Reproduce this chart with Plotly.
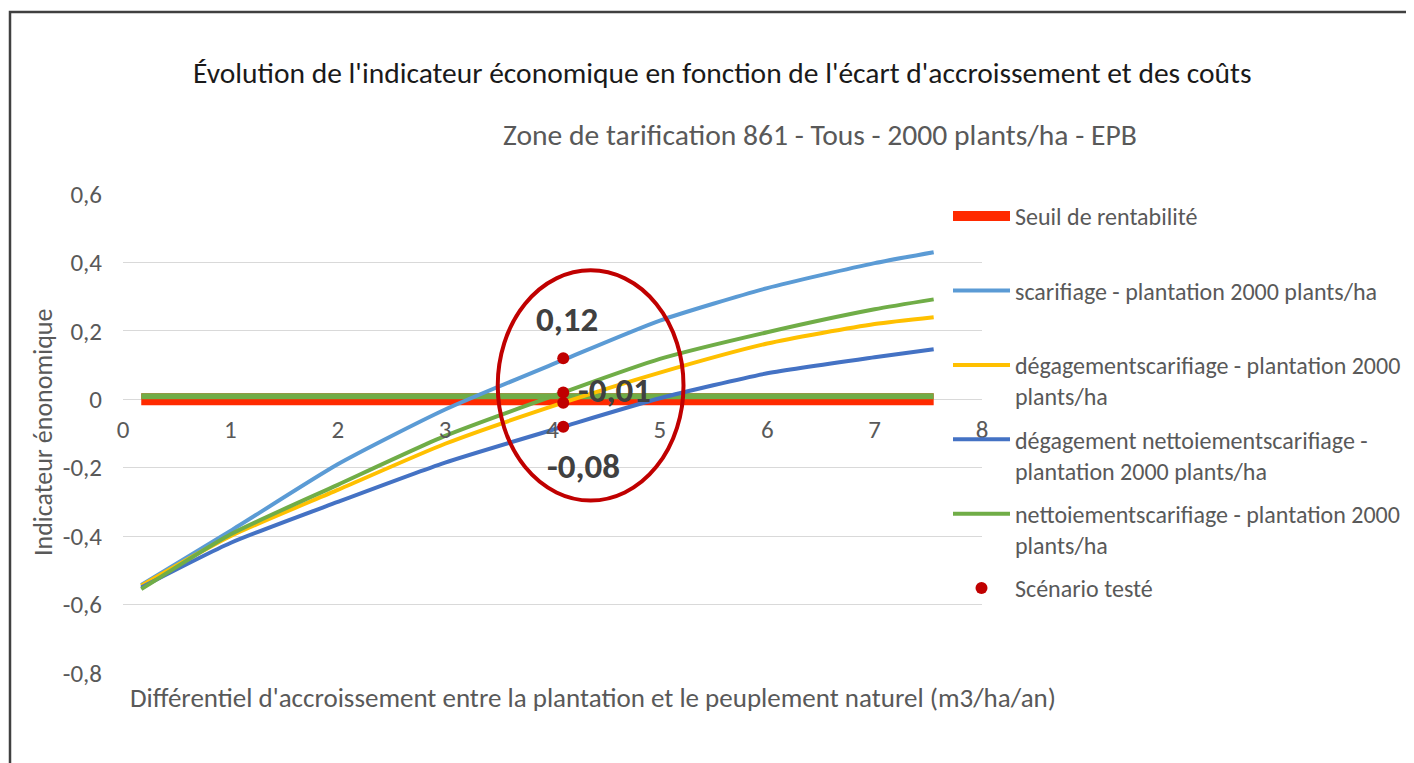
import plotly.graph_objects as go

# ---------------- data ----------------
x_pts = [0.17, 1.0, 2.0, 3.0, 4.1, 5.0, 6.0, 7.0, 7.55]
seuil_y = [0, 0, 0, 0, 0, 0, 0, 0, 0]
scarif_y = [-0.543, -0.385, -0.19, -0.03, 0.115, 0.23, 0.325, 0.398, 0.43]
degag_scarif_y = [-0.545, -0.40, -0.265, -0.13, -0.01, 0.078, 0.163, 0.22, 0.24]
degag_nett_y = [-0.55, -0.42, -0.30, -0.185, -0.08, 0.003, 0.076, 0.123, 0.146]
nett_scarif_y = [-0.555, -0.395, -0.25, -0.107, 0.02, 0.118, 0.196, 0.263, 0.292]

scen_x = [4.1, 4.1, 4.1, 4.1]
scen_y = [0.12, 0.02, -0.01, -0.08]
scen_labels = ["0,12", "", "-0,01", "-0,08"]

series_names = [
    "Seuil de rentabilité",
    "scarifiage - plantation 2000 plants/ha",
    "dégagementscarifiage - plantation 2000<br>plants/ha",
    "dégagement nettoiementscarifiage -<br>plantation 2000 plants/ha",
    "nettoiementscarifiage - plantation 2000<br>plants/ha",
    "Scénario testé",
]

y_tick_vals = [-0.8, -0.6, -0.4, -0.2, 0, 0.2, 0.4, 0.6]
y_tick_text = ["-0,8", "-0,6", "-0,4", "-0,2", "0", "0,2", "0,4", "0,6"]
x_tick_vals = [0, 1, 2, 3, 4, 5, 6, 7, 8]
x_tick_text = ["0", "1", "2", "3", "4", "5", "6", "7", "8"]

title_text = "Évolution de l'indicateur économique en fonction de l'écart d'accroissement et des coûts"
subtitle_text = "Zone de tarification 861 - Tous - 2000 plants/ha - EPB"
x_title = "Différentiel d'accroissement entre la plantation et le peuplement naturel (m3/ha/an)"
y_title = "Indicateur énonomique"

# ---------------- style ----------------
FONT = "Carlito, Calibri, Lato, sans-serif"
GRAY = "#595959"
C_RED = "#FF2A00"
C_GREEN = "#70AD47"
C_LBLUE = "#5B9BD5"
C_YEL = "#FFC000"
C_DBLUE = "#4472C4"
C_DOT = "#C00000"
Y_MIN, Y_MAX = -0.8, 0.6
seuil_offset = 0.009  # visual split of the two-tone threshold band

# plot area in screen pixels (page has an 8px body margin)
PX_L, PX_R, PX_T, PX_B = 123, 982, 194, 673
PW, PH = PX_R - PX_L, PX_B - PX_T


def px_to_paper(px, py):
    return (px - PX_L) / PW, (PX_B - py) / PH


fig = go.Figure()

# threshold band (red bottom half, green top half)
fig.add_trace(go.Scatter(
    x=x_pts, y=seuil_y, mode="lines", name=series_names[0] + "<br> ",
    line=dict(color=C_RED, width=12), legendgroup="g0",
))
fig.add_trace(go.Scatter(
    x=x_pts, y=[v + seuil_offset for v in seuil_y], mode="lines",
    line=dict(color=C_GREEN, width=6), legendgroup="g0", showlegend=False,
    hoverinfo="skip",
))

curves = [
    (scarif_y, series_names[1] + "<br> ", C_LBLUE, "g1"),
    (degag_scarif_y, series_names[2], C_YEL, "g2"),
    (degag_nett_y, series_names[3], C_DBLUE, "g3"),
    (nett_scarif_y, series_names[4], C_GREEN, "g4"),
]
for ys, nm, col, grp in curves:
    fig.add_trace(go.Scatter(
        x=x_pts, y=ys, mode="lines", name=nm, legendgroup=grp,
        line=dict(color=col, width=4, shape="spline", smoothing=0.6),
    ))

fig.add_trace(go.Scatter(
    x=scen_x, y=scen_y, mode="markers", name=series_names[5] + "<br> ",
    legendgroup="g5", marker=dict(color=C_DOT, size=12),
))

# data labels
label_shifts = [(4, 39, "center"), (0, 0, "center"), (14, 13, "left"), (20, -39, "center")]
for xv, yv, txt, (xs, ys, xa) in zip(scen_x, scen_y, scen_labels, label_shifts):
    if not txt:
        continue
    fig.add_annotation(
        x=xv, y=yv, text=txt, showarrow=False, xshift=xs, yshift=ys, xanchor=xa,
        borderpad=0,
        font=dict(family=FONT, size=35, color="#404040", weight="bold"),
    )

# highlight ellipse
fig.add_shape(type="circle", xref="x", yref="y", x0=3.49, x1=5.22, y0=-0.296, y1=0.377,
              line=dict(color=C_DOT, width=4), layer="above")

# outer frame (partially outside the image)
fx0, fy1 = px_to_paper(10, 12)
fig.add_shape(type="rect", xref="paper", yref="paper",
              x0=fx0, x1=1.6, y0=-0.3, y1=fy1,
              line=dict(color="#404040", width=2.5), layer="below")

# titles
tx, ty = px_to_paper(722, 73)
fig.add_annotation(xref="paper", yref="paper", x=tx, y=ty,
                   text=title_text, showarrow=False, xanchor="center", yanchor="middle",
                   font=dict(family=FONT, size=29.5, color="#1a1a1a"))
sx, sy = px_to_paper(820, 135)
fig.add_annotation(xref="paper", yref="paper", x=sx, y=sy,
                   text=subtitle_text, showarrow=False, xanchor="center", yanchor="middle",
                   font=dict(family=FONT, size=29.6, color=GRAY))
xtx, xty = px_to_paper(128, 697)
fig.add_annotation(xref="paper", yref="paper", x=xtx, y=xty,
                   text=x_title, showarrow=False, xanchor="left", yanchor="middle",
                   font=dict(family=FONT, size=27, color=GRAY))
ytx, yty = px_to_paper(43, 433)
fig.add_annotation(xref="paper", yref="paper", x=ytx, y=yty,
                   text=y_title, showarrow=False, textangle=-90, xanchor="center", yanchor="middle",
                   font=dict(family=FONT, size=26, color=GRAY))

lgx, _ = px_to_paper(948, 194)
fig.update_layout(
    width=1414, height=763,
    margin=dict(l=PX_L - 8, r=1414 - (PX_R - 8), t=PX_T - 8, b=763 - (PX_B - 8)),
    paper_bgcolor="white", plot_bgcolor="white",
    font=dict(family=FONT, color=GRAY),
    showlegend=True,
    legend=dict(
        x=lgx, y=1.0, xanchor="left", yanchor="top",
        font=dict(family=FONT, size=24, color=GRAY),
        valign="top", tracegroupgap=9, itemwidth=57,
        bgcolor="rgba(0,0,0,0)",
    ),
    xaxis=dict(
        range=[0, 8], tickvals=x_tick_vals, ticktext=x_tick_text,
        showgrid=False, zeroline=False, showline=False,
        anchor="free", position=(0 - Y_MIN) / (Y_MAX - Y_MIN),
        tickfont=dict(family=FONT, size=25, color=GRAY), ticks="", ticklabelstandoff=13,
    ),
    yaxis=dict(
        range=[Y_MIN, Y_MAX], tickvals=y_tick_vals, ticktext=y_tick_text,
        showgrid=True, gridcolor="#D9D9D9", gridwidth=1, zeroline=False, showline=False,
        tickfont=dict(family=FONT, size=25, color=GRAY), ticks="", ticklabelstandoff=20,
    ),
)

fig.write_html("out.html")
